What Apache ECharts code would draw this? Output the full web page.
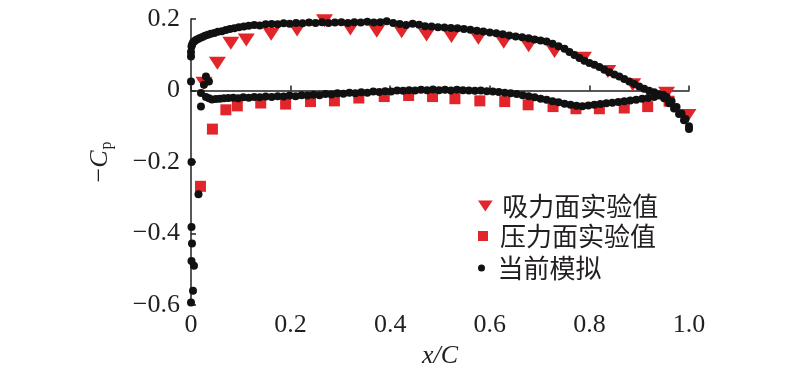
<!DOCTYPE html>
<html>
<head>
<meta charset="utf-8">
<script src="https://cdn.jsdelivr.net/npm/echarts@6.0.0/dist/echarts.min.js"></script>
<style>
  html, body { margin: 0; padding: 0; background: #fff; }
  #chart { width: 800px; height: 377px; }
</style>
</head>
<body>
<div id="chart"></div>
<script>
// Raw data (x/C, -Cp)
const seriesNames = ['吸力面实验值', '压力面实验值', '当前模拟'];

const suctionExp = [
  [0.026, 0.020], [0.053, 0.076], [0.080, 0.132], [0.111, 0.141], [0.161, 0.157],
  [0.213, 0.169], [0.268, 0.195], [0.320, 0.172], [0.373, 0.166], [0.423, 0.164],
  [0.473, 0.155], [0.523, 0.151], [0.577, 0.146], [0.628, 0.135], [0.678, 0.125],
  [0.730, 0.109], [0.788, 0.090], [0.837, 0.053], [0.887, 0.016], [0.955, -0.008],
  [0.998, -0.070]
];

const pressureExp = [
  [0.019, -0.268], [0.043, -0.108], [0.070, -0.054], [0.093, -0.043], [0.140, -0.035],
  [0.190, -0.038], [0.240, -0.031], [0.288, -0.029], [0.337, -0.021], [0.388, -0.017],
  [0.437, -0.014], [0.485, -0.017], [0.530, -0.023], [0.580, -0.029], [0.630, -0.031],
  [0.677, -0.040], [0.727, -0.045], [0.773, -0.051], [0.820, -0.051], [0.870, -0.049],
  [0.917, -0.045], [0.960, -0.030]
];

const simLeading = [
  [0.000, -0.593], [0.004, -0.560], [0.006, -0.490], [0.001, -0.477], [0.002, -0.428],
  [0.001, -0.382], [0.015, -0.290], [0.001, -0.200], [0.020, -0.045], [0.020, -0.007],
  [0.000, 0.025], [0.026, 0.016], [0.030, 0.039], [0.036, 0.025]
];

const simUpper = [
  [0.000, 0.095], [0.000, 0.108], [0.001, 0.123], [0.002, 0.128], [0.004, 0.134],
  [0.007, 0.138], [0.010, 0.141], [0.014, 0.144], [0.018, 0.147], [0.023, 0.150],
  [0.028, 0.153], [0.034, 0.156], [0.040, 0.159], [0.047, 0.161], [0.054, 0.164],
  [0.062, 0.166], [0.070, 0.169], [0.078, 0.172], [0.087, 0.174], [0.096, 0.177],
  [0.106, 0.179], [0.116, 0.181], [0.127, 0.183], [0.138, 0.182], [0.150, 0.185],
  [0.162, 0.186], [0.174, 0.185], [0.186, 0.188], [0.198, 0.187], [0.211, 0.189],
  [0.224, 0.188], [0.237, 0.190], [0.250, 0.189], [0.263, 0.191], [0.276, 0.189],
  [0.289, 0.190], [0.302, 0.191], [0.315, 0.189], [0.328, 0.191], [0.341, 0.190],
  [0.354, 0.192], [0.367, 0.190], [0.380, 0.191], [0.393, 0.194], [0.406, 0.189],
  [0.419, 0.186], [0.432, 0.183], [0.445, 0.187], [0.458, 0.184], [0.470, 0.180],
  [0.483, 0.179], [0.496, 0.177], [0.509, 0.176], [0.522, 0.175], [0.535, 0.174],
  [0.548, 0.172], [0.561, 0.170], [0.574, 0.167], [0.587, 0.165], [0.600, 0.162],
  [0.613, 0.160], [0.626, 0.157], [0.639, 0.154], [0.652, 0.151], [0.665, 0.149],
  [0.678, 0.146], [0.690, 0.143], [0.702, 0.140], [0.714, 0.137], [0.726, 0.131],
  [0.738, 0.124], [0.750, 0.117], [0.760, 0.108], [0.770, 0.099], [0.780, 0.091],
  [0.790, 0.083], [0.800, 0.077], [0.810, 0.072], [0.820, 0.066], [0.830, 0.058],
  [0.840, 0.051], [0.850, 0.045], [0.860, 0.039], [0.870, 0.032], [0.880, 0.025],
  [0.890, 0.018], [0.900, 0.011], [0.910, 0.005], [0.920, -0.001], [0.930, -0.005],
  [0.940, -0.011], [0.950, -0.022], [0.960, -0.036], [0.970, -0.050], [0.980, -0.066],
  [0.990, -0.083], [1.000, -0.100]
];

const simLower = [
  [0.030, -0.018], [0.036, -0.022], [0.042, -0.025], [0.050, -0.024], [0.058, -0.023],
  [0.066, -0.022], [0.075, -0.021], [0.085, -0.020], [0.095, -0.022], [0.105, -0.019],
  [0.116, -0.020], [0.127, -0.018], [0.138, -0.019], [0.150, -0.017], [0.162, -0.018],
  [0.174, -0.016], [0.186, -0.017], [0.198, -0.014], [0.210, -0.016], [0.222, -0.013],
  [0.234, -0.014], [0.246, -0.012], [0.258, -0.013], [0.270, -0.010], [0.282, -0.011],
  [0.294, -0.008], [0.306, -0.009], [0.318, -0.006], [0.330, -0.008], [0.342, -0.005],
  [0.354, -0.006], [0.366, -0.003], [0.378, -0.004], [0.390, -0.002], [0.402, -0.003],
  [0.414, 0.000], [0.426, -0.001], [0.438, 0.001], [0.450, 0.000], [0.462, 0.002],
  [0.474, 0.001], [0.486, 0.003], [0.498, 0.001], [0.510, 0.002], [0.522, 0.000],
  [0.534, 0.002], [0.546, 0.001], [0.558, 0.000], [0.570, -0.001], [0.582, 0.000],
  [0.594, -0.002], [0.606, -0.003], [0.618, -0.004], [0.630, -0.006], [0.642, -0.008],
  [0.654, -0.010], [0.666, -0.013], [0.678, -0.016], [0.690, -0.019], [0.702, -0.023],
  [0.714, -0.026], [0.726, -0.030], [0.738, -0.033], [0.750, -0.037], [0.762, -0.040],
  [0.774, -0.043], [0.786, -0.044], [0.798, -0.042], [0.810, -0.040], [0.822, -0.038],
  [0.834, -0.036], [0.846, -0.034], [0.858, -0.032], [0.870, -0.030], [0.882, -0.028],
  [0.894, -0.026], [0.906, -0.023], [0.918, -0.021], [0.930, -0.018], [0.940, -0.014],
  [0.948, -0.012], [0.955, -0.018], [0.965, -0.030], [0.975, -0.046], [0.985, -0.064],
  [0.993, -0.080], [1.000, -0.108]
];

const xTicks = [0, 0.2, 0.4, 0.6, 0.8, 1.0];
const yTicks = [-0.6, -0.4, -0.2, 0, 0.2];

var chartDom = document.getElementById('chart');
var myChart = echarts.init(chartDom);

const red = '#e1252b';
const ink = '#231f20';
const serif = '"Liberation Serif", serif';
const cjk = '"Noto Sans CJK SC", sans-serif';
const triDown = 'path://M0,0 L16,0 L8,12 Z';
const square = 'path://M0,0 L10,0 L10,10 L0,10 Z';

function fmtX(v) {
  if (v === 0) return '0';
  return v.toFixed(1);
}
function fmtY(v) {
  if (Math.abs(v) < 1e-9) return '0';
  return (v < 0 ? '\u2212' : '') + Math.abs(v).toFixed(1);
}

// one legend per row so each icon keeps its own size
function legendRow(name, icon, w, h, top) {
  return {
    data: [{ name: name, icon: icon }],
    left: 478,
    top: top,
    itemWidth: w,
    itemHeight: h,
    selectedMode: false,
    padding: 0,
    textStyle: { fontFamily: cjk, fontSize: 26, color: ink, lineHeight: 28 }
  };
}

var option = {
  animation: false,
  backgroundColor: '#fff',
  grid: { left: 191, right: 111, top: 19, bottom: 72 },
  legend: [
    legendRow(seriesNames[0], triDown, 24, 11, 192),
    legendRow(seriesNames[1], square, 24, 10, 222),
    legendRow(seriesNames[2], 'circle', 22, 7, 254)
  ],
  xAxis: {
    type: 'value',
    min: 0,
    max: 1,
    interval: 0.2,
    name: 'x/C',
    nameLocation: 'middle',
    nameGap: 33,
    nameTextStyle: { fontFamily: serif, fontStyle: 'italic', fontSize: 26, color: ink },
    axisLine: { lineStyle: { color: ink, width: 1.5 } },
    axisTick: { inside: true, length: 5, lineStyle: { color: ink, width: 1.5 } },
    axisLabel: {
      margin: 7,
      fontFamily: serif, fontSize: 26, color: ink,
      formatter: fmtX,
      showMinLabel: true, showMaxLabel: true
    },
    splitLine: { show: false }
  },
  yAxis: {
    type: 'value',
    min: -0.6,
    max: 0.2,
    interval: 0.2,
    name: '{m|\u2212}{c|C}{p|p}',
    nameLocation: 'middle',
    nameRotate: 90,
    nameGap: 76,
    nameTextStyle: {
      rich: {
        m: { fontFamily: serif, fontSize: 26, color: ink },
        c: { fontFamily: serif, fontStyle: 'italic', fontSize: 26, color: ink },
        p: { fontFamily: serif, fontSize: 16, color: ink, padding: [13, 0, 0, 1] }
      }
    },
    axisLine: { lineStyle: { color: ink, width: 1.5 } },
    axisTick: { inside: true, length: 5, lineStyle: { color: ink, width: 1.5 } },
    axisLabel: {
      margin: 11,
      fontFamily: serif, fontSize: 26, color: ink,
      formatter: fmtY,
      showMinLabel: true, showMaxLabel: true
    },
    splitLine: { show: false }
  },
  series: [
    {
      name: seriesNames[0],
      type: 'scatter',
      symbol: triDown,
      symbolSize: [17, 13],
      itemStyle: { color: red, opacity: 1 },
      data: suctionExp
    },
    {
      name: seriesNames[1],
      type: 'scatter',
      symbol: square,
      symbolSize: 11,
      itemStyle: { color: red, opacity: 1 },
      data: pressureExp
    },
    {
      name: seriesNames[2],
      type: 'scatter',
      symbol: 'circle',
      symbolSize: 8,
      itemStyle: { color: '#111', opacity: 1 },
      data: simLeading.concat(simUpper, simLower)
    }
  ]
};

option && myChart.setOption(option);
</script>
</body>
</html>
